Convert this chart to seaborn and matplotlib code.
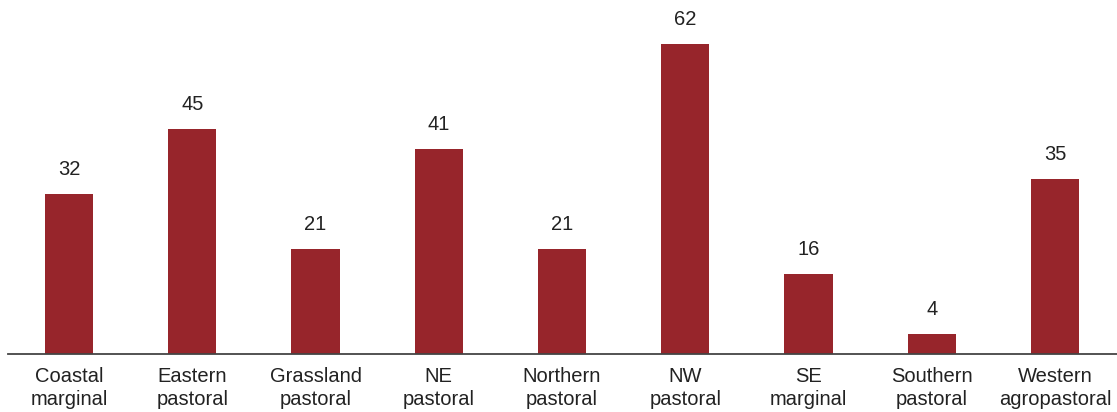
import matplotlib
matplotlib.use("Agg")
import matplotlib.pyplot as plt
import pandas as pd
import seaborn as sns

regions = ["Coastal\nmarginal", "Eastern\npastoral", "Grassland\npastoral", "NE\npastoral",
           "Northern\npastoral", "NW\npastoral", "SE\nmarginal", "Southern\npastoral",
           "Western\nagropastoral"]
values = [32, 45, 21, 41, 21, 62, 16, 4, 35]

df = pd.DataFrame({"region": regions, "value": values})

sns.set_theme(style="white")
plt.rcParams["font.family"] = ["Liberation Sans", "DejaVu Sans"]

fig = plt.figure(figsize=(11.17, 4.12), dpi=100)
ax = fig.add_axes([8 / 1117, 58 / 412, 1109 / 1117, 350 / 412])

bar_color = "#97252b"
sns.barplot(data=df, x="region", y="value", color=bar_color, width=0.39,
            saturation=1, ax=ax, errorbar=None, linewidth=0)

for i, v in enumerate(values):
    ax.annotate(f"{v}", xy=(i, v), xytext=(0, 11), textcoords="offset points",
                ha="center", va="bottom", fontsize=14.5, color="#222222")

ax.set_xlim(-0.495, 8.503)
ax.set_ylim(0, 70)
ax.set_xlabel("")
ax.set_ylabel("")
ax.set_yticks([])
ax.tick_params(axis="x", length=0, pad=9, labelsize=14.5, labelcolor="#222222")
for lbl in ax.get_xticklabels():
    lbl.set_linespacing(1.3)
for side in ["top", "right", "left"]:
    ax.spines[side].set_visible(False)
ax.spines["bottom"].set_color("#444444")
ax.spines["bottom"].set_linewidth(1.3)

fig.savefig("out.png", dpi=100)
